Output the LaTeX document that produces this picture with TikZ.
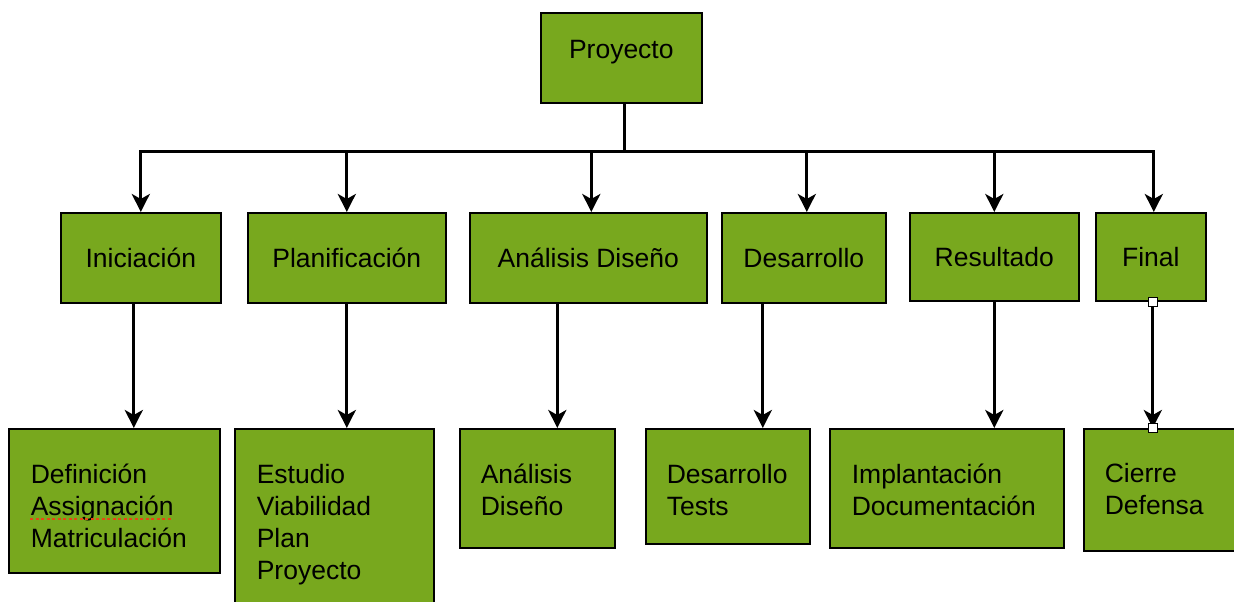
\documentclass[tikz,border=0pt]{standalone}
\usepackage{fontspec}
\setmainfont{Liberation Sans}
\usetikzlibrary{arrows.meta,calc}
\definecolor{leaf}{RGB}{120,168,30}
\definecolor{spell}{RGB}{232,70,20}
% a left-aligned stack of lines, centred on the node and lowered by #1
\newcommand{\linestack}[2]{\smash{\raisebox{\dimexpr-6.6pt-#1\relax}{%
  \begin{tabular}{@{}l@{}}#2\end{tabular}}}}
\tikzset{
  box/.style={draw=black, line width=1.6pt, fill=leaf, anchor=north west,
    inner sep=0pt, font=\fontsize{26.5}{32}\selectfont},
  leafbox/.style={box, align=left},
  link/.style={line width=3pt, draw=black},
  arr/.style={link, -{Stealth[length=18pt,width=18pt,inset=5pt]}},
  handle/.style={draw=black, line width=0.8pt, fill=white, minimum size=9pt,
    inner sep=0pt}
}
\begin{document}
\begin{tikzpicture}[x=1pt,y=-1pt]
\useasboundingbox (0,0) rectangle (1234,602);

% root
\node[box, minimum width=161pt, minimum height=90pt] (proj) at (540,12)
  {\smash{\raisebox{-1pt}{Proyecto}}};

% phases
\node[box, minimum width=160pt, minimum height=90pt] (ini) at (60,212) {Iniciación};
\node[box, minimum width=198pt, minimum height=90pt] (plan) at (247,212) {Planificación};
\node[box, minimum width=237pt, minimum height=90pt] (anal) at (469,212) {Análisis Diseño};
\node[box, minimum width=164pt, minimum height=90pt] (des) at (721,212) {Desarrollo};
\node[box, minimum width=169pt, minimum height=88pt] (res) at (909,212) {Resultado};
\node[box, minimum width=110pt, minimum height=88pt] (fin) at (1095,212) {Final};

% tasks
\node[leafbox, minimum width=211pt, minimum height=144pt, text width=167pt] (def) at (8,428)
  {\linestack{8pt}{Definición\\Assignación\\Matriculación}};
\node[leafbox, minimum width=199pt, minimum height=186pt, text width=155pt] (est) at (234,428)
  {\linestack{3pt}{Estudio\\Viabilidad\\Plan\\Proyecto}};
\node[leafbox, minimum width=155pt, minimum height=119pt, text width=113pt] (ad) at (459,428)
  {\linestack{4pt}{Análisis\\Diseño}};
\node[leafbox, minimum width=164pt, minimum height=115pt, text width=122pt] (dt) at (645,428)
  {\linestack{6pt}{Desarrollo\\Tests}};
\node[leafbox, minimum width=234pt, minimum height=119pt, text width=190pt] (imp) at (829,428)
  {\linestack{4pt}{Implantación\\Documentación}};
\node[leafbox, minimum width=160pt, minimum height=122pt, text width=118pt] (cie) at (1083,428)
  {\linestack{2pt}{Cierre\\Defensa}};

% spell-check mark under the second line
\draw[spell, line width=2pt, dash pattern=on 3pt off 2.5pt] (30,519) -- (171,519);

% root to phases
\coordinate (fork) at ($(proj.south)+(3,48)$);
\draw[link] ([xshift=3pt]proj.south) -- (fork);
\draw[arr] (fork) -| (ini.north);
\draw[arr] (fork) -| (plan.north);
\draw[arr] (fork) -| ([xshift=3pt]anal.north);
\draw[arr] (fork) -| ([xshift=3pt]des.north);
\draw[arr] (fork) -| (res.north);
\draw[arr] (fork) -| ([xshift=3pt]fin.north);

% phases to tasks
\draw[arr] ([xshift=-7pt]ini.south) -- ([xshift=-7pt]ini.south |- def.north);
\draw[arr] (plan.south) -- (plan.south |- est.north);
\draw[arr] ([xshift=-31pt]anal.south) -- ([xshift=-31pt]anal.south |- ad.north);
\draw[arr] ([xshift=-41pt]des.south) -- ([xshift=-41pt]des.south |- dt.north);
\draw[arr] (res.south) -- (res.south |- imp.north);
\draw[arr] ([xshift=2pt]fin.south) -- ([xshift=2pt]fin.south |- cie.north);

% selection handles on the last link
\node[handle] (h1) at ([xshift=2pt]fin.south) {};
\node[handle] (h2) at ([xshift=2pt]fin.south |- cie.north) {};
\end{tikzpicture}
\end{document}
